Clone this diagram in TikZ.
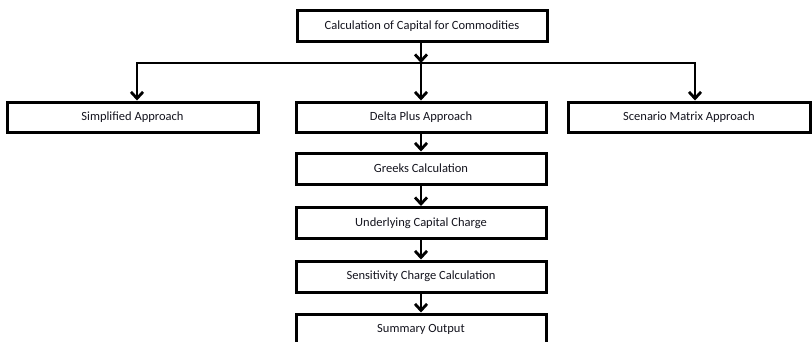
\documentclass[tikz,border=0pt]{standalone}
\usepackage{fontspec}
\setmainfont{Carlito}
\usetikzlibrary{arrows.meta}
\definecolor{txt}{HTML}{14141E}
\begin{document}
\begin{tikzpicture}[x=1pt,y=-1pt,
  box/.style={draw=black,line width=3pt,fill=white,minimum height=30pt,inner sep=0pt,
    font=\fontsize{12.5}{14}\selectfont,text=txt},
  conn/.style={draw=black,line width=2.8pt},
  arr/.style={conn,-{Straight Barb[length=6.5pt,width=12pt,line width=2.8pt]}}]
\useasboundingbox (0,0) rectangle (812,341);
\node[box,minimum width=250pt,minimum height=31pt] (top) at (422,26) {Calculation of Capital for Commodities};
\node[box,minimum width=251pt] (simp) at (132.5,117) {Simplified Approach};
\node[box,minimum width=250pt] (delta) at (421,117) {Delta Plus Approach};
\node[box,minimum width=242pt] (scen) at (689,117) {Scenario Matrix Approach};
\node[box,minimum width=250pt,minimum height=31pt] (greeks) at (421,168.5) {Greeks Calculation};
\node[box,minimum width=250pt,minimum height=31pt] (under) at (421,223) {Underlying Capital Charge};
\node[box,minimum width=250pt,minimum height=31pt] (sens) at (421,276.5) {Sensitivity Charge Calculation};
\node[box,minimum width=250pt,minimum height=31pt] (summ) at (421,329.5) {Summary Output};
\coordinate (busL) at (137,63);
\coordinate (busR) at (695,63);
\coordinate (busM) at (421,63);
\draw[conn,line cap=rect] (busL) -- (busR);
\draw[arr] (top.south -| busM) -- (busM);
\draw[arr] (busM) -- (delta.north);
\draw[arr] (busL) -- (busL |- simp.north);
\draw[arr] (busR) -- (busR |- scen.north);
\draw[arr] (delta.south) -- (greeks.north);
\draw[arr] (greeks.south) -- (under.north);
\draw[arr] (under.south) -- (sens.north);
\draw[arr] (sens.south) -- (summ.north);
\end{tikzpicture}
\end{document}
